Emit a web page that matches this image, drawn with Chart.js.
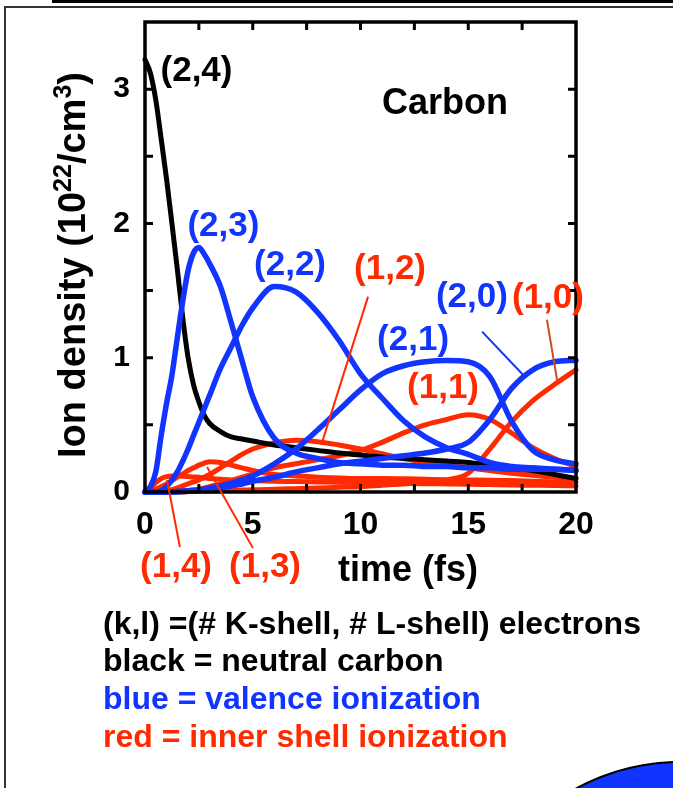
<!DOCTYPE html>
<html>
<head>
<meta charset="utf-8">
<script src="https://cdn.jsdelivr.net/npm/chart.js@4.4.0/dist/chart.umd.min.js"></script>
<style>
html, body { margin: 0; padding: 0; background: #fff; overflow: hidden; }
body { width: 673px; height: 788px; position: relative; font-family: "Liberation Sans", Arial, sans-serif; font-weight: bold; }
#topbar { position: absolute; left: 52px; top: 0; width: 621px; height: 3px; background: #000; }
#frame { position: absolute; left: 4px; top: 6px; width: 700px; height: 800px; border-left: 2px solid #333; border-top: 2px solid #333; }
#blob { position: absolute; left: 462px; top: 761px; width: 436px; height: 436px; border-radius: 50%; background: #1234ff; border: 2px solid #000; box-sizing: border-box; }
canvas { position: absolute; left: 0; top: 0; }
.note { position: absolute; left: 103px; font-size: 32px; line-height: 38px; white-space: nowrap; }
</style>
</head>
<body>
<div id="topbar"></div>
<div id="frame"></div>
<div id="blob"></div>
<canvas id="c" width="673" height="788"></canvas>
<div class="note" style="top:604px;color:#000">(k,l) =(# K-shell, # L-shell) electrons</div>
<div class="note" style="top:641px;color:#000">black = neutral carbon</div>
<div class="note" style="top:679px;color:#1234ff">blue = valence ionization</div>
<div class="note" style="top:717px;color:#ff2a00">red = inner shell ionization</div>
<script>
const BLUE = '#1234ff'
const RED = '#ff2a00'

// time in fs
const time = [0,0.25,0.5,0.75,1,1.25,1.5,1.75,2,2.25,2.5,2.75,3,3.5,4,4.5,5,6,7,8,9,10,11,12,13,14,15,16,17,18,19,20]

// ion density, 10^22 / cm^3, one array per (k,l) state
const s24 = [3.22,3.12,2.92,2.63,2.33,2.00,1.66,1.30,1.00,0.80,0.67,0.57,0.51,0.45,0.41,0.395,0.38,0.35,0.33,0.31,0.29,0.275,0.26,0.25,0.24,0.23,0.22,0.20,0.18,0.16,0.13,0.10]
const s23 = [0,0.04,0.15,0.42,0.66,0.87,1.15,1.42,1.65,1.78,1.82,1.77,1.70,1.53,1.26,0.98,0.71,0.40,0.29,0.25,0.22,0.21,0.20,0.20,0.19,0.19,0.18,0.18,0.17,0.17,0.17,0.16]
const s22 = [0,0,0,0.01,0.04,0.09,0.15,0.23,0.32,0.42,0.52,0.62,0.72,0.92,1.08,1.24,1.37,1.53,1.49,1.34,1.13,0.88,0.70,0.53,0.41,0.33,0.28,0.22,0.19,0.18,0.17,0.16]
const s21 = [0,0,0,0,0,0,0.005,0.007,0.01,0.012,0.015,0.02,0.03,0.045,0.065,0.09,0.12,0.21,0.32,0.46,0.61,0.76,0.88,0.94,0.97,0.98,0.97,0.86,0.53,0.31,0.24,0.21]
const s20 = [0,0,0,0,0,0,0,0.003,0.005,0.008,0.012,0.016,0.02,0.03,0.045,0.06,0.08,0.11,0.15,0.18,0.21,0.23,0.25,0.27,0.29,0.32,0.37,0.54,0.77,0.91,0.97,0.98]
const s14 = [0,0.03,0.07,0.1,0.115,0.12,0.12,0.118,0.115,0.112,0.11,0.105,0.1,0.095,0.09,0.088,0.085,0.08,0.078,0.075,0.072,0.07,0.068,0.065,0.062,0.06,0.058,0.055,0.052,0.05,0.048,0.045]
const s13 = [0,0.005,0.02,0.04,0.06,0.085,0.11,0.135,0.16,0.18,0.2,0.215,0.225,0.22,0.2,0.18,0.16,0.13,0.12,0.11,0.105,0.1,0.1,0.098,0.095,0.092,0.09,0.088,0.085,0.08,0.075,0.07]
const s12 = [0,0,0,0.003,0.01,0.018,0.03,0.045,0.06,0.075,0.09,0.11,0.13,0.18,0.23,0.28,0.32,0.365,0.385,0.375,0.35,0.32,0.285,0.25,0.22,0.2,0.18,0.16,0.14,0.125,0.11,0.1]
const s11 = [0,0,0,0,0,0,0.005,0.008,0.012,0.016,0.02,0.03,0.04,0.06,0.085,0.11,0.135,0.18,0.21,0.24,0.27,0.31,0.37,0.44,0.50,0.54,0.575,0.54,0.44,0.33,0.25,0.19]
const s10 = [0,0,0,0,0,0,0,0,0.003,0.004,0.005,0.006,0.008,0.01,0.012,0.014,0.016,0.02,0.025,0.03,0.035,0.04,0.05,0.06,0.07,0.09,0.14,0.32,0.52,0.68,0.80,0.91]

// tick marks drawn inward on the box
const xTickMarks = [2.5,5,7.5,10,12.5,15,17.5]
const yTickMarks = [0.5,1,1.5,2,2.5,3]

// labels in data units: [text, x, y, colour, size]
const labels = [
  ['(2,4)', 2.39, 3.13, '#000', 35],
  ['Carbon', 13.92, 2.89, '#000', 36],
  ['(2,3)', 3.64, 1.98, BLUE, 35],
  ['(2,2)', 6.73, 1.69, BLUE, 35],
  ['(1,2)', 11.37, 1.66, RED, 35],
  ['(2,0)', 15.17, 1.45, BLUE, 35],
  ['(1,0)', 18.70, 1.44, RED, 35],
  ['(2,1)', 12.44, 1.13, BLUE, 35],
  ['(1,1)', 13.83, 0.77, RED, 35],
  ['(1,4)', 1.44, -0.56, RED, 35],
  ['(1,3)', 5.57, -0.56, RED, 35],
  ['time (fs)', 12.2, -0.59, '#000', 36]
]
// pointer lines: [x1, y1, x2, y2, colour]
const pointers = [
  [10.35, 1.455, 8.21, 0.366, RED],
  [15.64, 1.194, 17.54, 0.873, BLUE],
  [18.65, 1.284, 19.12, 0.836, '#c8501e'],
  [1.02, 0.09, 1.62, -0.41, RED],
  [2.88, 0.187, 5.01, -0.418, RED]
]

function series(vals, color, width) {
  return {
    data: time.map((t, i) => ({x: t, y: vals[i]})),
    borderColor: color,
    borderWidth: width,
    pointRadius: 0,
    cubicInterpolationMode: 'monotone',
    borderCapStyle: 'round',
    borderJoinStyle: 'round',
    fill: false,
    clip: 3
  }
}

const boxPlugin = {
  id: 'box',
  afterDatasetsDraw(chart) {
    const {ctx, chartArea: a, scales} = chart
    ctx.save()
    ctx.strokeStyle = '#000'
    ctx.lineWidth = 3
    xTickMarks.forEach(v => {
      const px = scales.x.getPixelForValue(v)
      ctx.beginPath()
      ctx.moveTo(px, a.top); ctx.lineTo(px, a.top + 8)
      ctx.moveTo(px, a.bottom); ctx.lineTo(px, a.bottom - 8)
      ctx.stroke()
    })
    yTickMarks.forEach(v => {
      const py = scales.y.getPixelForValue(v)
      ctx.beginPath()
      ctx.moveTo(a.left, py); ctx.lineTo(a.left + 8, py)
      ctx.moveTo(a.right, py); ctx.lineTo(a.right - 8, py)
      ctx.stroke()
    })
    ctx.lineWidth = 3.5
    ctx.strokeRect(a.left, a.top, a.right - a.left, a.bottom - a.top)
    ctx.restore()
  },
  afterDraw(chart) {
    const {ctx, scales} = chart
    const X = v => scales.x.getPixelForValue(v)
    const Y = v => scales.y.getPixelForValue(v)
    ctx.save()
    pointers.forEach(p => {
      ctx.strokeStyle = p[4]
      ctx.lineWidth = 2
      ctx.beginPath()
      ctx.moveTo(X(p[0]), Y(p[1]))
      ctx.lineTo(X(p[2]), Y(p[3]))
      ctx.stroke()
    })
    ctx.textAlign = 'center'
    ctx.textBaseline = 'middle'
    labels.forEach(l => {
      ctx.fillStyle = l[3]
      ctx.font = 'bold ' + l[4] + 'px "Liberation Sans", Arial, sans-serif'
      ctx.fillText(l[0], X(l[1]), Y(l[2]))
    })

    // y axis title with superscripts
    const parts = [['Ion density (10', 38, 0], ['22', 25, -14], ['/cm', 38, 0], ['3', 25, -14], [')', 38, 0]]
    let total = 0
    parts.forEach(p => {
      ctx.font = 'bold ' + p[1] + 'px "Liberation Sans", Arial, sans-serif'
      p.push(ctx.measureText(p[0]).width)
      total += p[3]
    })
    ctx.translate(85, 265)
    ctx.rotate(-Math.PI / 2)
    ctx.textAlign = 'left'
    ctx.textBaseline = 'alphabetic'
    ctx.fillStyle = '#000'
    let u = -total / 2
    parts.forEach(p => {
      ctx.font = 'bold ' + p[1] + 'px "Liberation Sans", Arial, sans-serif'
      ctx.fillText(p[0], u, p[2])
      u += p[3]
    })
    ctx.restore()
  }
}

Chart.defaults.font.family = '"Liberation Sans", Arial, sans-serif'

new Chart(document.getElementById('c'), {
  type: 'line',
  data: {
    datasets: [
      series(s23, BLUE, 5.5),
      series(s22, BLUE, 5.5),
      series(s21, BLUE, 5.5),
      series(s20, BLUE, 5.5),
      series(s24, '#000', 5),
      series(s14, RED, 5),
      series(s13, RED, 5),
      series(s12, RED, 5),
      series(s11, RED, 5),
      series(s10, RED, 5)
    ]
  },
  options: {
    responsive: false,
    animation: false,
    devicePixelRatio: 1,
    layout: { padding: { left: 0, top: 22, right: 97, bottom: 0 } },
    plugins: { legend: { display: false }, tooltip: { enabled: false } },
    scales: {
      x: {
        type: 'linear', min: 0, max: 20,
        grid: { display: false, drawTicks: false },
        border: { display: false },
        ticks: { stepSize: 5, padding: 14, color: '#000', font: { size: 32, weight: 'bold' }, maxRotation: 0 },
        afterFit: s => { s.height = 296; s.paddingLeft = 0; s.paddingRight = 0 }
      },
      y: {
        min: 0, max: 3.5,
        grid: { display: false, drawTicks: false },
        border: { display: false },
        ticks: { stepSize: 1, padding: 15, color: '#000', font: { size: 30, weight: 'bold' },
          callback: v => Number.isInteger(v) ? v : '' },
        afterFit: s => { s.width = 145; s.paddingTop = 0; s.paddingBottom = 0 }
      }
    }
  },
  plugins: [boxPlugin]
})
</script>
</body>
</html>
